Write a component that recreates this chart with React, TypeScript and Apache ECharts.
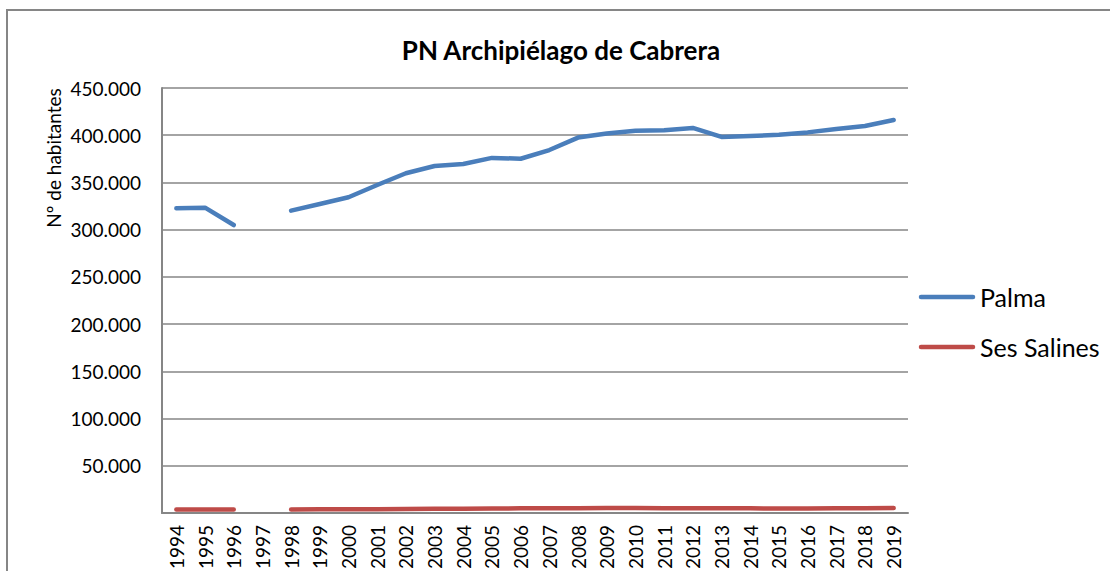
import React, { useEffect, useRef } from "react";
import * as echarts from "echarts";

const years = [
  "1994", "1995", "1996", "1997", "1998", "1999", "2000", "2001", "2002", "2003",
  "2004", "2005", "2006", "2007", "2008", "2009", "2010", "2011", "2012", "2013",
  "2014", "2015", "2016", "2017", "2018", "2019",
];

const palma = [
  322600, 323300, 304900, null, 320100, 327200, 334300, 347300, 359700, 367400,
  369500, 376000, 375100, 384300, 397500, 401800, 404700, 405300, 407700, 398200,
  399100, 400600, 403000, 406500, 409700, 416100,
];

const sesSalines = [
  3700, 3700, 3700, null, 3800, 3900, 4000, 4100, 4300, 4500,
  4600, 4800, 4900, 5000, 5100, 5200, 5200, 5100, 5100, 5000,
  4900, 4800, 4800, 4900, 5000, 5200,
];

const seriesNames = ["Palma", "Ses Salines"];
const seriesColors = ["#4a7ebb", "#be4b48"];
const title = "PN Archipiélago de Cabrera";
const yAxisName = "Nº de habitantes";

const fmt = (v: number) =>
  v === 0 ? "" : String(Math.round(v)).replace(/\B(?=(\d{3})+(?!\d))/g, ".");

export default function App() {
  const ref = useRef<HTMLDivElement>(null);
  useEffect(() => {
    if (!ref.current) return;
    const chart = echarts.init(ref.current, null, { renderer: "svg" });
    const font = "Lato, 'Open Sans', sans-serif";
    chart.setOption({
      animation: false,
      backgroundColor: "#ffffff",
      title: {
        text: title,
        left: 556,
        top: 32,
        textAlign: "center",
        textStyle: { fontFamily: font, fontSize: 26, fontWeight: "bold", color: "#000" },
      },
      grid: {
        left: 162,
        top: 88,
        right: 202,
        bottom: 58,
        containLabel: false,
        outerBoundsMode: "none",
      },
      xAxis: {
        type: "category",
        data: years,
        boundaryGap: true,
        axisLine: { show: true, lineStyle: { color: "#868686", width: 2 } },
        axisTick: { show: false },
        axisLabel: {
          rotate: 90,
          interval: 0,
          margin: 12,
          fontFamily: font,
          fontSize: 19,
          color: "#000",
        },
      },
      yAxis: {
        type: "value",
        min: 0,
        max: 450000,
        interval: 50000,
        axisLine: { show: true, lineStyle: { color: "#868686", width: 2 } },
        axisTick: { show: false },
        splitLine: { show: true, lineStyle: { color: "#868686", width: 1.5 } },
        axisLabel: {
          formatter: fmt,
          margin: 21,
          fontFamily: font,
          fontSize: 19,
          color: "#000",
        },
      },
      series: [
        {
          name: seriesNames[0],
          type: "line",
          data: palma,
          connectNulls: false,
          showSymbol: false,
          symbol: "none",
          lineStyle: { color: seriesColors[0], width: 4.5, cap: "round", join: "round" },
          itemStyle: { color: seriesColors[0] },
        },
        {
          name: seriesNames[1],
          type: "line",
          data: sesSalines,
          connectNulls: false,
          showSymbol: false,
          symbol: "none",
          lineStyle: { color: seriesColors[1], width: 4.5, cap: "round", join: "round" },
          itemStyle: { color: seriesColors[1] },
        },
      ],
      graphic: [
        {
          type: "rect",
          silent: true,
          shape: { x: 7, y: 10, width: 1120, height: 620 },
          style: { fill: "none", stroke: "#868686", lineWidth: 2 },
        },
        {
          type: "text",
          x: 53,
          y: 158,
          rotation: Math.PI / 2,
          style: {
            text: yAxisName,
            fontFamily: font,
            fontSize: 19,
            fill: "#000",
            align: "center",
            verticalAlign: "middle",
          },
        },
        ...seriesNames.flatMap((name, i) => [
          {
            type: "line",
            silent: true,
            shape: { x1: 921, y1: 297 + i * 50, x2: 973, y2: 297 + i * 50 },
            style: { stroke: seriesColors[i], lineWidth: 4.5, lineCap: "round" },
          },
          {
            type: "text",
            x: 980,
            y: 297 + i * 50,
            style: {
              text: name,
              fontFamily: font,
              fontSize: 25,
              fill: "#000",
              align: "left",
              verticalAlign: "middle",
            },
          },
        ]),
      ],
    });
    return () => chart.dispose();
  }, []);
  return (
    <div
      ref={ref}
      style={{ position: "fixed", left: 0, top: 0, width: 1110, height: 571 }}
    />
  );
}
